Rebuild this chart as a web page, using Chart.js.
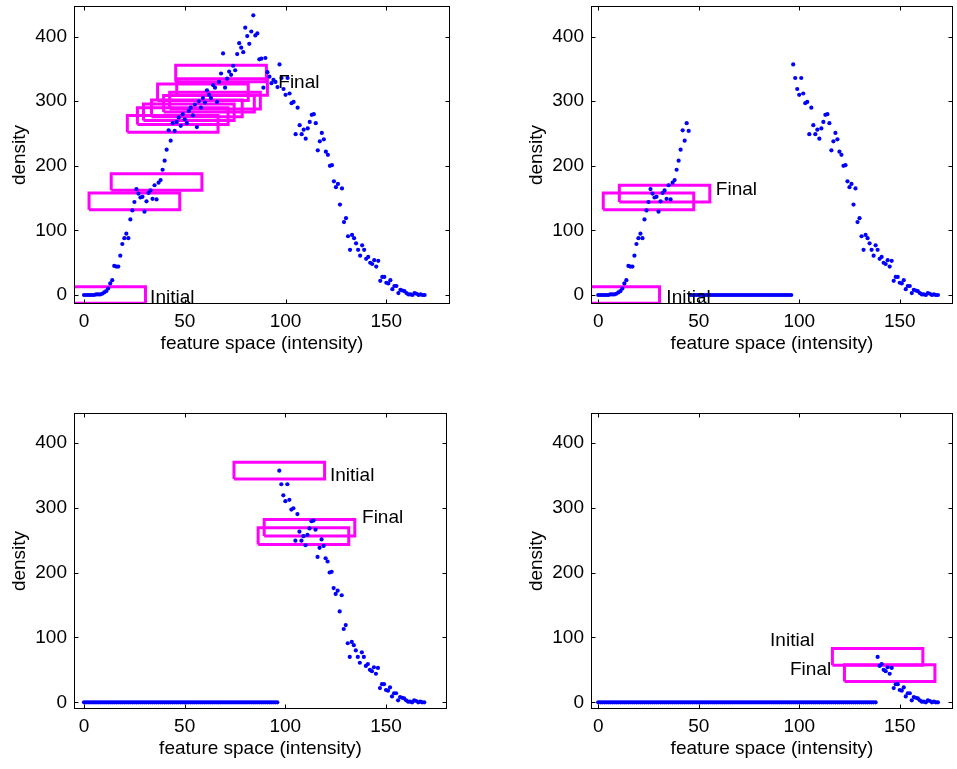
<!DOCTYPE html>
<html>
<head>
<meta charset="utf-8">
<script src="https://cdn.jsdelivr.net/npm/chart.js@4.4.1/dist/chart.umd.min.js"></script>
<style>
body { margin: 0; background: #fff; width: 957px; height: 769px; position: relative; overflow: hidden; }
canvas { position: absolute; }
</style>
</head>
<body>
<canvas id="tl"></canvas>
<canvas id="tr"></canvas>
<canvas id="bl"></canvas>
<canvas id="br"></canvas>
<script>
// intensity bins (feature space)
const intensity = [
  0,1,2,3,4,5,6,7,8,9,10,11,12,13,14,15,16,17,18,19,
  20,21,22,23,24,25,26,27,28,29,30,31,32,33,34,35,36,37,38,39,
  40,41,42,43,44,45,46,47,48,49,50,51,52,53,54,55,56,57,58,59,
  60,61,62,63,64,65,66,67,68,69,70,71,72,73,74,75,76,77,78,79,
  80,81,82,83,84,85,86,87,88,89,90,91,92,93,94,95,96,97,98,99,
  100,101,102,103,104,105,106,107,108,109,110,111,112,113,114,115,116,117,118,119,
  120,121,122,123,124,125,126,127,128,129,130,131,132,133,134,135,136,137,138,139,
  140,141,142,143,144,145,146,147,148,149,150,151,152,153,154,155,156,157,158,159,
  160,161,162,163,164,165,166,167,168,169
];

// density per bin
const density = [
  0,0,0,0,0,0,1,1,1,2,
  4,6,10,18,23,45,44,44,61,79,
  88,95,88,117,131,144,164,157,151,152,
  129,145,158,162,149,170,148,174,178,194,
  208,225,255,239,266,254,268,275,262,280,
  272,266,285,290,278,295,260,300,290,305,
  298,317,310,305,325,321,299,330,343,374,
  321,335,346,341,355,348,373,390,383,376,
  414,401,389,408,433,402,405,365,366,321,
  367,345,338,328,333,330,322,357,336,319,
  310,336,312,297,299,249,290,263,249,256,
  242,258,268,279,280,266,224,238,251,241,
  222,217,200,201,176,167,172,140,165,113,
  119,91,70,93,88,80,70,61,77,70,
  56,59,50,48,54,44,53,22,28,28,
  19,18,23,9,14,14,3,8,7,6,
  3,1,1,0,3,2,0,1,0,0
];

const xTicks = [0, 50, 100, 150];
const yTicks = [0, 100, 200, 300, 400];

// bins already removed (set to zero) in each panel
const trRemoved = [[46, 96]];
const blRemoved = [[0, 96]];
const brRemoved = [[0, 138]];

// window centres, initial -> final
const tlWinX = [8, 25, 36, 44, 49, 52, 56, 62, 65, 59, 68, 68.5];
const tlWinY = [0, 145, 175, 265, 277, 283, 289, 296, 301, 314, 343, 322];
const trWinX = [8, 25, 33];
const trWinY = [0, 145, 157];
const blWinX = [97, 109, 112];
const blWinY = [357, 256, 269];
const brWinX = [139, 145];
const brWinY = [70, 45];

// text labels
const tlText = [['Initial', 32.8, -4.6], ['Final', 96.4, 328]];
const trText = [['Initial', 33.9, -4.6], ['Final', 58.5, 162.5]];
const blText = [['Initial', 122.2, 349], ['Final', 138.1, 284]];
const brText = [['Initial', 85.5, 94.5], ['Final', 95.4, 49.8]];

const WIN_HW = 22.5, WIN_HH = 12.8;
const FONT = '"Liberation Sans", Arial, Helvetica, sans-serif';
const FSIZE = 19;

Chart.defaults.font.family = FONT;
Chart.defaults.font.size = FSIZE;
Chart.defaults.color = '#000';

function points(removed) {
    return intensity.map((x, i) => {
        const gone = removed.some(r => x >= r[0] && x <= r[1]);
        return {x: x, y: gone ? 0 : density[i]};
    });
}

function windowBox(cx, cy) {
    return [
        {x: cx - WIN_HW, y: cy - WIN_HH}, {x: cx + WIN_HW, y: cy - WIN_HH},
        {x: cx + WIN_HW, y: cy + WIN_HH}, {x: cx - WIN_HW, y: cy + WIN_HH},
        {x: cx - WIN_HW, y: cy - WIN_HH}
    ];
}

function noPad(s) {
    s.paddingTop = 0; s.paddingBottom = 0;
    s.paddingLeft = 0; s.paddingRight = 0;
}

const boxTicks = {
    id: 'boxTicks',
    afterDraw(chart, args, opts) {
        const {ctx, chartArea: a, scales: {x, y}} = chart;
        ctx.save();
        ctx.strokeStyle = '#000';
        ctx.lineWidth = 1;
        ctx.beginPath();
        x.ticks.forEach(t => {
            const px = Math.round(x.getPixelForValue(t.value)) + 0.5;
            ctx.moveTo(px, a.bottom); ctx.lineTo(px, a.bottom - 4.5);
            ctx.moveTo(px, a.top); ctx.lineTo(px, a.top + 4.5);
        });
        y.ticks.forEach(t => {
            const py = Math.round(y.getPixelForValue(t.value)) + 0.5;
            ctx.moveTo(a.left, py); ctx.lineTo(a.left + 4.5, py);
            ctx.moveTo(a.right, py); ctx.lineTo(a.right - 4.5, py);
        });
        ctx.stroke();
        ctx.strokeRect(a.left + 0.5, a.top + 0.5, a.width - 1, a.height - 1);
        ctx.fillStyle = '#000';
        ctx.font = FSIZE + 'px ' + FONT;
        ctx.textAlign = 'left';
        ctx.textBaseline = 'middle';
        opts.labels.forEach(l => {
            ctx.fillText(l[0], x.getPixelForValue(l[1]), y.getPixelForValue(l[2]));
        });
        ctx.restore();
    }
};

function makePanel(id, p) {
    const canvas = document.getElementById(id);
    canvas.width = p.w;
    canvas.height = p.h;
    canvas.style.left = p.left + 'px';
    canvas.style.top = p.top + 'px';
    const lh = FSIZE * 1.2;

    const datasets = [{
        type: 'scatter',
        data: points(p.removed),
        pointRadius: 2.1,
        pointBorderWidth: 0,
        pointBackgroundColor: '#0000ff',
        clip: 0
    }];
    p.winX.forEach((cx, i) => {
        datasets.push({
            type: 'line',
            data: windowBox(cx, p.winY[i]),
            borderColor: '#ff00ff',
            borderWidth: 3,
            borderJoinStyle: 'miter',
            pointRadius: 0,
            fill: false,
            tension: 0,
            clip: 0
        });
    });

    new Chart(canvas, {
        type: 'scatter',
        data: {datasets: datasets},
        options: {
            responsive: false,
            animation: false,
            devicePixelRatio: 1,
            layout: {
                padding: {left: 0, top: p.area.t - p.top, right: p.left + p.w - p.area.r, bottom: 0}
            },
            plugins: {
                legend: {display: false},
                tooltip: {enabled: false},
                boxTicks: {labels: p.text}
            },
            scales: {
                x: {
                    type: 'linear',
                    min: p.xMin, max: p.xMax,
                    grid: {display: false, drawTicks: false},
                    border: {display: false},
                    afterBuildTicks: s => { s.ticks = xTicks.map(v => ({value: v})); },
                    afterFit: s => { s.height = p.top + p.h - p.area.b; noPad(s); },
                    ticks: {padding: 6, maxRotation: 0, autoSkip: false},
                    title: {
                        display: true,
                        text: 'feature space (intensity)',
                        padding: {top: 0, bottom: (p.top + p.h - p.xTitleY) - lh / 2}
                    }
                },
                y: {
                    type: 'linear',
                    min: p.yMin, max: p.yMax,
                    grid: {display: false, drawTicks: false},
                    border: {display: false},
                    afterBuildTicks: s => { s.ticks = yTicks.map(v => ({value: v})); },
                    afterFit: s => { s.width = p.area.l - p.left; noPad(s); },
                    ticks: {padding: 7, autoSkip: false},
                    title: {
                        display: true,
                        text: 'density',
                        padding: {top: (p.yTitleX - p.left) - lh / 2, bottom: 0}
                    }
                }
            }
        },
        plugins: [boxTicks]
    });
}

makePanel('tl', {
    left: 0, top: 0, w: 478, h: 384,
    area: {l: 74, t: 6, r: 450, b: 304},
    xMin: -4.97, xMax: 181.6, yMin: -13.9, yMax: 447.5,
    xTitleY: 344, yTitleX: 20,
    removed: [], winX: tlWinX, winY: tlWinY, text: tlText
});
makePanel('tr', {
    left: 517, top: 0, w: 440, h: 384,
    area: {l: 591, t: 6, r: 956, b: 304},
    xMin: -3.6, xMax: 176.5, yMin: -13.9, yMax: 447.5,
    xTitleY: 344, yTitleX: 537,
    removed: trRemoved, winX: trWinX, winY: trWinY, text: trText
});
makePanel('bl', {
    left: 0, top: 407, w: 478, h: 362,
    area: {l: 74, t: 413, r: 447, b: 709},
    xMin: -4.97, xMax: 180.3, yMin: -10.3, yMax: 445.8,
    xTitleY: 749, yTitleX: 20,
    removed: blRemoved, winX: blWinX, winY: blWinY, text: blText
});
makePanel('br', {
    left: 517, top: 407, w: 440, h: 362,
    area: {l: 591, t: 413, r: 956, b: 709},
    xMin: -3.6, xMax: 176.5, yMin: -10.3, yMax: 445.8,
    xTitleY: 749, yTitleX: 537,
    removed: brRemoved, winX: brWinX, winY: brWinY, text: brText
});
</script>
</body>
</html>
